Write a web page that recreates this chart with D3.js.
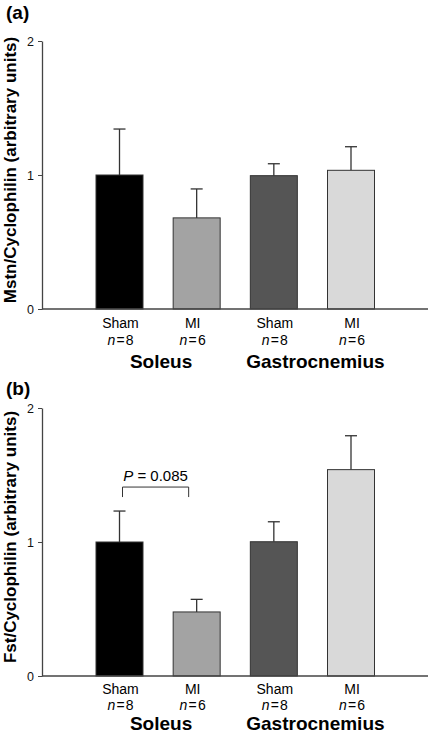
<!DOCTYPE html>
<html><head><meta charset="utf-8">
<script src="https://cdn.jsdelivr.net/npm/d3@7"></script>
<style>body{margin:0;background:#fff}svg{display:block;font-family:"Liberation Sans",Arial,sans-serif}</style>
</head><body>
<svg id="c" width="430" height="733"></svg>
<script>
const groups = ["Sham","MI","Sham","MI"];
const nLabels = ["8","6","8","6"];
const muscles = ["Soleus","Gastrocnemius"];
const colors = ["#000000","#a3a3a3","#555555","#d9d9d9"];
const mstnMean = [1.00, 0.68, 0.995, 1.035];
const mstnErr  = [1.343, 0.896, 1.084, 1.211];
const fstMean  = [1.00, 0.478, 1.002, 1.54];
const fstErr   = [1.231, 0.572, 1.151, 1.793];
const yTicks = [0,1,2];

const svg = d3.select("#c");
const axisX = 42, xEnd = 428, barW = 47;
const x = d3.scalePoint().domain([0,1,2,3]).range([119.5, 351]);

function panel(opt){
  const {letter, labelText, means, errs, top, zero, pval, letterY, off} = opt;
  const y = d3.scaleLinear().domain([0,2]).range([zero, top]);
  const g = svg.append("g");
  g.append("text").attr("x",6).attr("y",letterY).attr("font-size",19).attr("font-weight","bold").text(letter);
  means.forEach((m,i)=>{
    const cx = x(i);
    g.append("line").attr("x1",cx).attr("x2",cx).attr("y1",y(m)).attr("y2",y(errs[i])).attr("stroke","#333").attr("stroke-width",1.3);
    g.append("line").attr("x1",cx-6).attr("x2",cx+6).attr("y1",y(errs[i])).attr("y2",y(errs[i])).attr("stroke","#333").attr("stroke-width",1.3);
  });
  g.selectAll("rect.bar").data(means).join("rect").attr("class","bar")
    .attr("x",(d,i)=>x(i)-barW/2).attr("width",barW)
    .attr("y",d=>y(d)).attr("height",d=>zero-y(d))
    .attr("fill",(d,i)=>colors[i]).attr("stroke","#333").attr("stroke-width",1);
  const ax = g.append("g").attr("transform",`translate(${axisX},0)`)
    .call(d3.axisLeft(y).tickValues(yTicks).tickFormat(d3.format("d")).tickSize(4).tickSizeOuter(0));
  ax.select(".domain").attr("stroke","#444").attr("stroke-width",1.3);
  ax.selectAll(".tick line").attr("stroke","#444");
  ax.selectAll(".tick text").attr("font-size",12.5).attr("fill","#111").attr("x",-8).attr("font-family","Liberation Sans, Arial, sans-serif");
  g.append("line").attr("x1",axisX).attr("x2",xEnd).attr("y1",zero).attr("y2",zero).attr("stroke","#444").attr("stroke-width",1.3);
  groups.forEach((gr,i)=>{
    const dx = (i===1) ? -4 : 1;
    g.append("text").attr("x",x(i)+dx).attr("y",zero+off[0]).attr("text-anchor","middle").attr("font-size",14).text(gr);
    const t = g.append("text").attr("x",x(i)+dx).attr("y",zero+off[1]).attr("text-anchor","middle").attr("font-size",14);
    t.append("tspan").attr("font-style","italic").text("n");
    t.append("tspan").text("\u200A=\u200A"+nLabels[i]);
  });
  muscles.forEach((mu,k)=>{
    g.append("text").attr("x",(x(2*k)+x(2*k+1))/2+3).attr("y",zero+off[2]).attr("text-anchor","middle")
      .attr("font-size",19).attr("font-weight","bold").text(mu);
  });
  g.append("text").attr("transform",`translate(16,${(top+zero)/2-5}) rotate(-90)`).attr("text-anchor","middle")
    .attr("font-size",17).attr("font-weight","bold").text(labelText);
  if(pval){
    const by = y(pval.level);
    const x1 = x(0)+3, x2 = x(1)-8;
    g.append("path").attr("d",`M${x1},${by+10}V${by}H${x2}V${by+10}`).attr("fill","none").attr("stroke","#333").attr("stroke-width",1);
    const t = g.append("text").attr("x",(x1+x2)/2).attr("y",by-6).attr("text-anchor","middle").attr("font-size",15);
    t.append("tspan").attr("font-style","italic").text("P");
    t.append("tspan").text(" = "+pval.text);
  }
}
panel({letter:"(a)",labelText:"Mstn/Cyclophilin (arbitrary units)",means:mstnMean,errs:mstnErr,top:41,zero:309,pval:null,letterY:19,off:[19,36,59]});
panel({letter:"(b)",labelText:"Fst/Cyclophilin (arbitrary units)",means:fstMean,errs:fstErr,top:408,zero:676,pval:{level:1.41,text:"0.085"},letterY:395,off:[18,34,53.5]});
</script>
</body></html>
